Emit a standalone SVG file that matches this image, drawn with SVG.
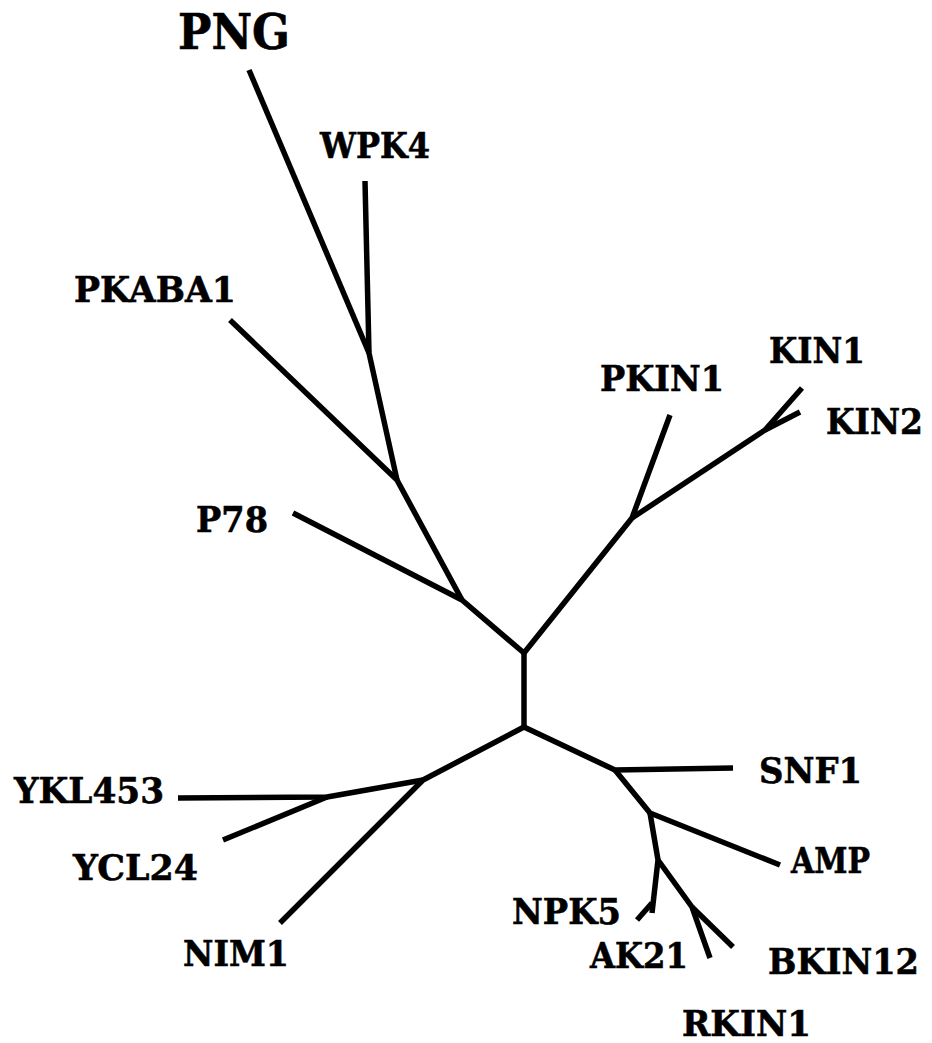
<svg xmlns="http://www.w3.org/2000/svg" width="932" height="1043" viewBox="0 0 932 1043">
  <style>
    .edge { fill: none; stroke: #000; stroke-width: 5.5; stroke-linecap: butt; stroke-linejoin: round; }
    .lbl { font-family: "DejaVu Serif", "Liberation Serif", serif; font-weight: bold; font-size: 36px; fill: #000; stroke: #000; stroke-width: 0.6; }
    .big { font-size: 48px; }
  </style>
  <rect width="932" height="1043" fill="#fff"/>

  <!-- unrooted tree branches -->
  <g id="connectors">
    <!-- central internal branch -->
    <line class="edge" x1="524" y1="653" x2="524" y2="727"/>
    <!-- upper right clade: PKIN1, KIN1, KIN2 -->
    <polyline class="edge" points="524,653 632,518 670,415"/>
    <polyline class="edge" points="632,518 765,430 802,388"/>
    <line class="edge" x1="765" y1="430" x2="800" y2="412"/>
    <!-- upper left clade: P78, PKABA1, WPK4, PNG -->
    <polyline class="edge" points="524,653 462,600 293,513"/>
    <polyline class="edge" points="462,600 397,480 230,320"/>
    <polyline class="edge" points="397,480 369,353 365,181"/>
    <line class="edge" x1="369" y1="353" x2="249" y2="70"/>
    <!-- lower left clade: YKL453, YCL24, NIM1 -->
    <polyline class="edge" points="524,727 423,780 280,923"/>
    <polyline class="edge" points="423,780 327,797 178,798"/>
    <line class="edge" x1="327" y1="797" x2="223" y2="840"/>
    <!-- lower right clade: SNF1, AMP, NPK5, AK21, BKIN12, RKIN1 -->
    <polyline class="edge" points="524,727 615,770 733,768"/>
    <polyline class="edge" points="615,770 650,813 780,865"/>
    <polyline class="edge" points="650,813 658,860 652,913"/>
    <line class="edge" x1="652" y1="903" x2="637" y2="920"/>
    <polyline class="edge" points="658,860 692,907 710,958"/>
    <line class="edge" x1="692" y1="907" x2="733" y2="947"/>
  </g>

  <!-- leaf labels -->
  <g id="PNG"><text class="lbl big" x="178" y="49" textLength="112" lengthAdjust="spacingAndGlyphs">PNG</text></g>
  <g id="WPK4"><text class="lbl" x="320" y="158" textLength="110" lengthAdjust="spacingAndGlyphs">WPK4</text></g>
  <g id="PKABA1"><text class="lbl" x="74" y="302" textLength="162" lengthAdjust="spacingAndGlyphs">PKABA1</text></g>
  <g id="P78"><text class="lbl" x="196" y="532" textLength="72" lengthAdjust="spacingAndGlyphs">P78</text></g>
  <g id="PKIN1"><text class="lbl" x="600" y="391" textLength="124" lengthAdjust="spacingAndGlyphs">PKIN1</text></g>
  <g id="KIN1"><text class="lbl" x="769" y="363" textLength="96" lengthAdjust="spacingAndGlyphs">KIN1</text></g>
  <g id="KIN2"><text class="lbl" x="826" y="434" textLength="97" lengthAdjust="spacingAndGlyphs">KIN2</text></g>
  <g id="SNF1"><text class="lbl" x="759" y="783" textLength="103" lengthAdjust="spacingAndGlyphs">SNF1</text></g>
  <g id="AMP"><text class="lbl" x="791" y="873" textLength="79" lengthAdjust="spacingAndGlyphs">AMP</text></g>
  <g id="YKL453"><text class="lbl" x="14" y="803" textLength="150" lengthAdjust="spacingAndGlyphs">YKL453</text></g>
  <g id="YCL24"><text class="lbl" x="73" y="880" textLength="125" lengthAdjust="spacingAndGlyphs">YCL24</text></g>
  <g id="NIM1"><text class="lbl" x="183" y="966" textLength="106" lengthAdjust="spacingAndGlyphs">NIM1</text></g>
  <g id="NPK5"><text class="lbl" x="512" y="924" textLength="109" lengthAdjust="spacingAndGlyphs">NPK5</text></g>
  <g id="AK21"><text class="lbl" x="590" y="968" textLength="98" lengthAdjust="spacingAndGlyphs">AK21</text></g>
  <g id="BKIN12"><text class="lbl" x="768" y="974" textLength="151" lengthAdjust="spacingAndGlyphs">BKIN12</text></g>
  <g id="RKIN1"><text class="lbl" x="682" y="1036" textLength="129" lengthAdjust="spacingAndGlyphs">RKIN1</text></g>
</svg>
